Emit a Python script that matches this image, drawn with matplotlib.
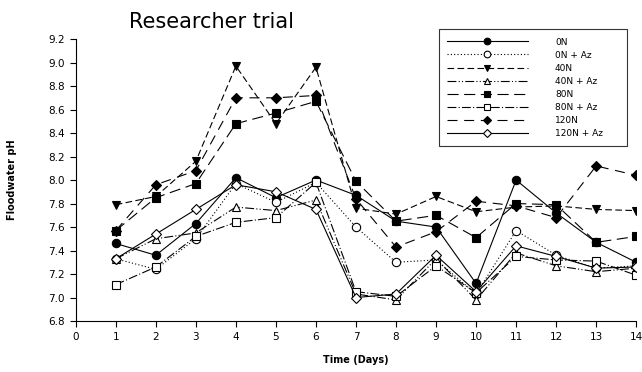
import matplotlib
matplotlib.use("Agg")
import matplotlib.pyplot as plt

days = list(range(1, 15))

ph_0n = [7.46, 7.36, 7.63, 8.02, 7.85, 8.00, 7.87, 7.65, 7.60, 7.12, 8.00, 7.72, 7.47, 7.30]
ph_0n_az = [7.33, 7.24, 7.50, 7.97, 7.81, 7.98, 7.60, 7.30, 7.32, 7.03, 7.57, 7.36, 7.25, 7.27]
ph_40n = [7.79, 7.86, 8.16, 8.97, 8.48, 8.96, 7.76, 7.71, 7.86, 7.73, 7.77, 7.78, 7.75, 7.74]
ph_40n_az = [7.33, 7.50, 7.55, 7.77, 7.74, 7.83, 7.03, 6.98, 7.33, 6.98, 7.38, 7.27, 7.22, 7.25]
ph_80n = [7.57, 7.85, 7.97, 8.48, 8.57, 8.67, 7.99, 7.65, 7.70, 7.51, 7.80, 7.79, 7.47, 7.52]
ph_80n_az = [7.11, 7.26, 7.52, 7.64, 7.68, 7.98, 7.05, 7.01, 7.27, 7.04, 7.35, 7.32, 7.31, 7.19]
ph_120n = [7.57, 7.96, 8.08, 8.70, 8.70, 8.72, 7.84, 7.43, 7.56, 7.82, 7.78, 7.68, 8.12, 8.04]
ph_120n_az = [7.33, 7.54, 7.75, 7.96, 7.90, 7.75, 7.00, 7.03, 7.36, 7.05, 7.44, 7.35, 7.25, 7.26]

labels = ["0N", "0N + Az", "40N", "40N + Az", "80N", "80N + Az", "120N", "120N + Az"]
series = [ph_0n, ph_0n_az, ph_40n, ph_40n_az, ph_80n, ph_80n_az, ph_120n, ph_120n_az]

# marker, fill, dash pattern
styles = [
    ("o", "black", "-"),
    ("o", "white", (0, (1, 2))),
    ("v", "black", (0, (6, 3))),
    ("^", "white", (0, (8, 2, 1, 2, 1, 2))),
    ("s", "black", (0, (10, 5))),
    ("s", "white", (0, (8, 2, 1, 2))),
    ("D", "black", (0, (9, 6))),
    ("D", "white", "-"),
]

fig = plt.figure(figsize=(6.42, 3.72), dpi=100)
ax = fig.add_axes([0.118, 0.137, 0.873, 0.758])

for vals, lab, (mk, fc, ls) in zip(series, labels, styles):
    ms = 5.0 if mk == "D" else 6.0
    ax.plot(days, vals, color="black", linestyle=ls, linewidth=0.8,
            marker=mk, markerfacecolor=fc, markeredgecolor="black",
            markeredgewidth=0.8, markersize=ms, label=lab)

ax.set_xlim(0, 14)
ax.set_ylim(6.8, 9.2)
ax.set_xticks(range(0, 15))
ax.set_yticks([6.8 + 0.2 * i for i in range(13)])
ax.set_yticklabels([f"{6.8 + 0.2 * i:.1f}" for i in range(13)])
ax.tick_params(direction="out", length=4, width=0.8, labelsize=7.5, pad=4)
for side in ["top", "right"]:
    ax.spines[side].set_visible(False)
for side in ["left", "bottom"]:
    ax.spines[side].set_linewidth(0.8)

ax.set_xlabel("Time (Days)", fontsize=7, fontweight="bold", labelpad=9)
ax.set_ylabel("Floodwater pH", fontsize=7, fontweight="bold", labelpad=22)

fig.text(0.33, 0.94, "Researcher trial", fontsize=15, ha="center", va="center")

leg = ax.legend(loc="upper left", bbox_to_anchor=(0.676, 0.618, 0.308, 0.315),
                bbox_transform=fig.transFigure, mode="expand",
                fontsize=6.5, handlelength=9, fancybox=False, frameon=True,
                borderpad=0.9, labelspacing=0.45, handletextpad=3,
                markerscale=0.8)
leg.get_frame().set_edgecolor("black")
leg.get_frame().set_linewidth(0.8)

fig.savefig("out.png", dpi=100)
